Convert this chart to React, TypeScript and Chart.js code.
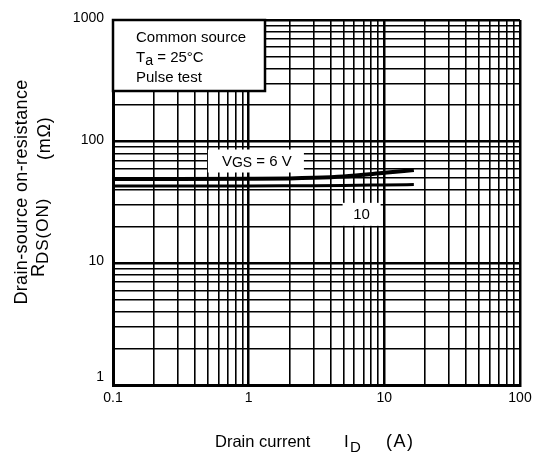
import { useEffect, useRef } from "react";
import { Chart, registerables } from "chart.js";
Chart.register(...registerables);

// Data
const currentA = [0.1, 0.3, 1, 2, 3, 5, 10, 16.5];
const rds6V = [49.4, 49.4, 49.5, 49.8, 50.4, 51.8, 55.5, 58.5];
const rds10V = [43.3, 43.3, 43.3, 43.4, 43.5, 43.7, 44.1, 44.4];
const xTickLabels = [0.1, 1, 10, 100];
const yTickLabels = [1, 10, 100, 1000];
const legendLines = ["Common source", "Ta = 25°C", "Pulse test"];

const FONT = "'Liberation Sans', Arial, sans-serif";

function logGrid(min: number, max: number): number[] {
  const out: number[] = [];
  for (let d = min; d < max * 0.999; d *= 10) {
    for (let m = 1; m < 10; m++) out.push(+(d * m).toPrecision(6));
  }
  out.push(max);
  return out;
}

type Seg = { t: string; sub?: boolean; dy?: number };

function drawSegs(
  ctx: CanvasRenderingContext2D,
  segs: Seg[],
  x: number,
  y: number,
  size: number,
  align: "left" | "center",
  subScale = 0.85,
  subDrop = 0.25
) {
  const subSize = size * subScale;
  let total = 0;
  const widths = segs.map((s) => {
    ctx.font = `${s.sub ? subSize : size}px ${FONT}`;
    const w = ctx.measureText(s.t).width;
    total += w;
    return w;
  });
  let cx = align === "center" ? x - total / 2 : x;
  ctx.textAlign = "left";
  ctx.textBaseline = "alphabetic";
  segs.forEach((s, i) => {
    ctx.font = `${s.sub ? subSize : size}px ${FONT}`;
    ctx.fillText(s.t, cx, (s.sub ? y + size * subDrop : y) + (s.dy || 0));
    cx += widths[i];
  });
}

function txt(
  ctx: CanvasRenderingContext2D,
  t: string,
  x: number,
  y: number,
  size: number,
  spacing = 0,
  align: CanvasTextAlign = "left"
) {
  ctx.font = `${size}px ${FONT}`;
  (ctx as any).letterSpacing = `${spacing}px`;
  ctx.textAlign = align;
  ctx.textBaseline = "alphabetic";
  ctx.fillText(t, x, y);
  (ctx as any).letterSpacing = "0px";
}

const overlay = {
  id: "overlay",
  afterDraw(chart: any) {
    const ctx: CanvasRenderingContext2D = chart.ctx;
    const xs = chart.scales.x;
    const ys = chart.scales.y;
    const area = chart.chartArea;
    ctx.save();
    ctx.fillStyle = "#000";

    // tick labels
    ctx.font = `14px ${FONT}`;
    ctx.textAlign = "right";
    ctx.textBaseline = "middle";
    yTickLabels.forEach((v) => {
      let py = ys.getPixelForValue(v);
      if (v === yTickLabels[0]) py -= 6;
      ctx.fillText(String(v), area.left - 9, py - 2);
    });
    ctx.textAlign = "center";
    xTickLabels.forEach((v) => {
      ctx.fillText(String(v), xs.getPixelForValue(v), area.bottom + 13);
    });

    // x title
    txt(ctx, "Drain current", 215, 447, 16.5, 0);
    txt(ctx, "I", 344, 447, 17);
    txt(ctx, "D", 350, 451.5, 15);
    txt(ctx, "(A)", 386, 447, 18, 1.5);

    // y title (rotated; u runs upward along screen)
    ctx.save();
    ctx.rotate(-Math.PI / 2);
    txt(ctx, "Drain-source on-resistance", -192, 27, 18, 0.35, "center");
    txt(ctx, "R", -277, 44, 18);
    txt(ctx, "DS(ON)", -264, 48, 17, 1);
    txt(ctx, "(mΩ)", -160, 50, 18, 0.8);
    ctx.restore();

    // legend box
    ctx.fillStyle = "#fff";
    ctx.fillRect(area.left, area.top, 152, 71);
    ctx.strokeStyle = "#000";
    ctx.lineWidth = 2.5;
    ctx.strokeRect(area.left, area.top, 152, 71);
    ctx.fillStyle = "#000";
    drawSegs(ctx, [{ t: legendLines[0] }], area.left + 23, area.top + 22, 15, "left");
    drawSegs(
      ctx,
      [{ t: "T" }, { t: "a", sub: true }, { t: legendLines[1].slice(2) }],
      area.left + 23,
      area.top + 42,
      15,
      "left",
      0.95,
      0.2
    );
    drawSegs(ctx, [{ t: legendLines[2] }], area.left + 23, area.top + 62, 15, "left");

    // curve labels
    const lx = xs.getPixelForValue(1.15);
    const ly = ys.getPixelForValue(70);
    ctx.fillStyle = "#fff";
    ctx.fillRect(lx - 49, ly - 11, 96, 23);
    ctx.fillStyle = "#000";
    drawSegs(
      ctx,
      [{ t: "V" }, { t: "GS", sub: true }, { t: " = 6 V" }],
      lx,
      ly + 5,
      15,
      "center",
      0.93,
      0.12
    );

    const tx = xs.getPixelForValue(6.8);
    const ty = ys.getPixelForValue(26);
    ctx.fillStyle = "#fff";
    ctx.fillRect(tx - 19, ty - 10, 38, 23);
    ctx.fillStyle = "#000";
    drawSegs(ctx, [{ t: "10" }], tx, ty + 6, 15, "center");

    ctx.restore();
  },
};

export default function App() {
  const ref = useRef<HTMLCanvasElement>(null);
  useEffect(() => {
    document.body.style.margin = "0";
    const gridWidth = (c: any) => {
      const v = c.tick?.value;
      if (v == null) return 1.6;
      const l = Math.log10(v);
      return Math.abs(l - Math.round(l)) < 1e-6 ? 2.5 : 1.6;
    };
    const chart = new Chart(ref.current!, {
      type: "line",
      data: {
        datasets: [
          {
            label: "VGS = 6 V",
            data: currentA.map((x, i) => ({ x, y: rds6V[i] })),
            borderColor: "#000",
            borderWidth: 4,
            pointRadius: 0,
            cubicInterpolationMode: "monotone",
          },
          {
            label: "VGS = 10 V",
            data: currentA.map((x, i) => ({ x, y: rds10V[i] })),
            borderColor: "#000",
            borderWidth: 3,
            pointRadius: 0,
            cubicInterpolationMode: "monotone",
          },
        ],
      },
      options: {
        animation: false,
        responsive: true,
        maintainAspectRatio: false,
        layout: { padding: { left: 113, right: 13, top: 20, bottom: 67 } },
        plugins: { legend: { display: false }, tooltip: { enabled: false } },
        scales: {
          x: {
            type: "logarithmic",
            min: 0.1,
            max: 100,
            afterBuildTicks: (s: any) => {
              s.ticks = logGrid(0.1, 100).map((value) => ({ value }));
            },
            afterFit: (s: any) => {
              s.height = 0;
            },
            ticks: { display: false },
            grid: { color: "#000", lineWidth: gridWidth, drawTicks: false },
            border: { display: true, color: "#000", width: 3 },
          },
          y: {
            type: "logarithmic",
            min: 1,
            max: 1000,
            afterBuildTicks: (s: any) => {
              s.ticks = logGrid(1, 1000).map((value) => ({ value }));
            },
            afterFit: (s: any) => {
              s.width = 0;
            },
            ticks: { display: false },
            grid: { color: "#000", lineWidth: gridWidth, drawTicks: false },
            border: { display: true, color: "#000", width: 3 },
          },
        },
      },
      plugins: [overlay],
    });
    return () => chart.destroy();
  }, []);
  return (
    <div style={{ width: 533, height: 452, position: "relative", background: "#fff" }}>
      <canvas ref={ref} />
    </div>
  );
}
